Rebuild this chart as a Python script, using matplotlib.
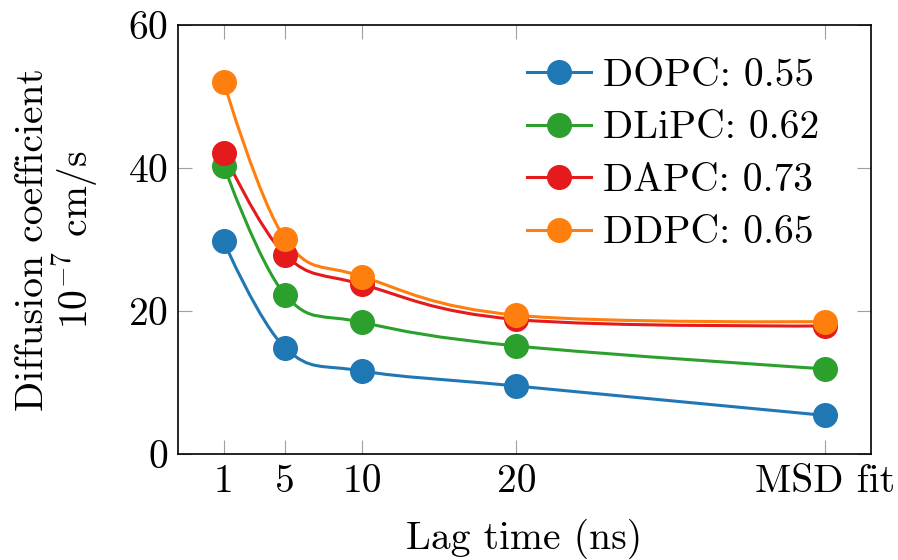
import matplotlib
matplotlib.use("Agg")
import matplotlib.pyplot as plt
from matplotlib.path import Path
from matplotlib.patches import PathPatch
import numpy as np

plt.rcParams["font.family"] = "serif"
plt.rcParams["font.serif"] = ["cmr10"]
plt.rcParams["mathtext.fontset"] = "cm"
plt.rcParams["axes.formatter.use_mathtext"] = True

# ---- data ---------------------------------------------------------------
lag_pos = [1, 5, 10, 20, 40]
lag_labels = ["1", "5", "10", "20", "MSD fit"]

dopc = [29.7, 14.8, 11.6, 9.5, 5.4]
dlipc = [40.3, 22.2, 18.4, 15.1, 11.9]
dapc = [42.1, 27.8, 23.7, 18.8, 17.9]
ddpc = [52.0, 30.0, 24.8, 19.4, 18.5]

names = ["DOPC: 0.55", "DLiPC: 0.62", "DAPC: 0.73", "DDPC: 0.65"]
colors = ["#1f77b4", "#2ca02c", "#e41a1c", "#ff7f0e"]

FS = 28.5


def smooth_path(x, y, tension=0.55):
    # pgfplots-style "smooth": cubic bezier through the points
    p = np.column_stack([x, y]).astype(float)
    n = len(p)
    verts = [p[0]]
    codes = [Path.MOVETO]
    k = tension / 3.0
    for i in range(n - 1):
        d0 = (p[min(i + 1, n - 1)] - p[max(i - 1, 0)]) * (k if 0 < i else 0)
        d1 = (p[min(i + 2, n - 1)] - p[i]) * (k if i + 1 < n - 1 else 0)
        verts += [p[i] + d0, p[i + 1] - d1, p[i + 1]]
        codes += [Path.CURVE4] * 3
    return Path(verts, codes)


fig = plt.figure(figsize=(8.98, 5.60), dpi=100)
ax = fig.add_axes([0.1977, 0.1893, 0.772, 0.7666])

for ys, name, c in zip([dopc, dlipc, dapc, ddpc], names, colors):
    ax.add_patch(PathPatch(smooth_path(lag_pos, ys), facecolor="none",
                           edgecolor=c, lw=2.2, zorder=2))
    ax.plot(lag_pos, ys, "o", color=c, ms=17, zorder=3)
    # legend proxy
    ax.plot([], [], "-o", color=c, lw=2.2, ms=17, label=name)

ax.set_xlim(-2, 43)
ax.set_ylim(0, 60)
ax.set_xticks(lag_pos)
ax.set_xticklabels(lag_labels)
ax.set_yticks([0, 20, 40, 60])
ax.tick_params(direction="in", length=10, width=0.8, color="#a0a0a0",
               top=True, right=True, labelsize=FS, pad=7)
for s in ax.spines.values():
    s.set_linewidth(1.2)

ax.set_xlabel("Lag time (ns)", fontsize=FS, labelpad=14)
ax.set_ylabel("Diffusion coefficient\n$10^{-7}$ cm/s", fontsize=FS,
              labelpad=19, linespacing=1.0)

ax.legend(loc="upper right", bbox_to_anchor=(0.925, 0.922), fontsize=FS,
          frameon=False, handlelength=1.6, handletextpad=0.3,
          labelspacing=0.42, borderaxespad=0, borderpad=0)

fig.savefig("out.png", dpi=100)
